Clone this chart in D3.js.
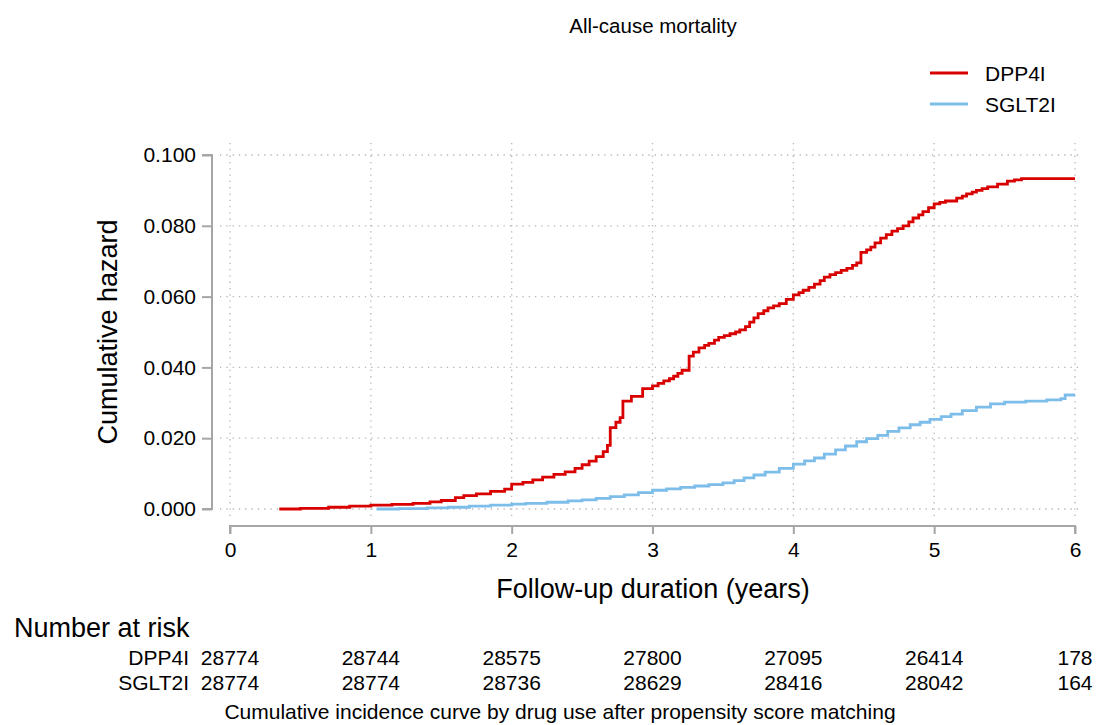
<!DOCTYPE html>
<html>
<head>
<meta charset="utf-8">
<script src="https://cdn.jsdelivr.net/npm/d3@7"></script>
<style>
  body { margin: 0; background: #fff; }
  svg text { font-family: "Liberation Sans", Arial, sans-serif; fill: #000; }
</style>
</head>
<body>
<div id="chart"></div>
<script>
// follow-up time (years) and cumulative hazard
var dppTime = [0.35, 0.5, 0.7, 0.85, 1.0, 1.15, 1.3, 1.42, 1.5, 1.6, 1.66, 1.75, 1.85, 1.95,
  2.0, 2.08, 2.15, 2.22, 2.3, 2.38, 2.45, 2.5, 2.55, 2.6, 2.65, 2.68, 2.70, 2.74, 2.77, 2.79,
  2.85, 2.93, 3.0, 3.04, 3.08, 3.12, 3.15, 3.18, 3.21, 3.26, 3.29, 3.33, 3.37, 3.4, 3.44, 3.47,
  3.51, 3.55, 3.59, 3.62, 3.66, 3.69, 3.72, 3.75, 3.79, 3.82, 3.86, 3.9, 3.95, 4.0, 4.04, 4.07,
  4.11, 4.15, 4.19, 4.22, 4.26, 4.3, 4.34, 4.38, 4.42, 4.45, 4.48, 4.52, 4.55, 4.58, 4.62, 4.66,
  4.7, 4.74, 4.78, 4.82, 4.85, 4.89, 4.92, 4.96, 5.0, 5.04, 5.08, 5.16, 5.2, 5.23, 5.27, 5.3,
  5.34, 5.38, 5.45, 5.52, 5.57, 5.62, 6.0];
var dppHaz = [0.0000, 0.0002, 0.0005, 0.0008, 0.0011, 0.0013, 0.0016, 0.0020, 0.0024, 0.0032,
  0.0038, 0.0043, 0.0050, 0.0056, 0.0070, 0.0075, 0.0082, 0.0090, 0.0098, 0.0105, 0.0115,
  0.0125, 0.0135, 0.0148, 0.0162, 0.0180, 0.0230, 0.0245, 0.0258, 0.0305, 0.0318, 0.0340,
  0.0348, 0.0355, 0.0362, 0.0368, 0.0375, 0.0383, 0.0392, 0.0432, 0.0443, 0.0455, 0.0462,
  0.0468, 0.0477, 0.0485, 0.0490, 0.0495, 0.0500, 0.0506, 0.0515, 0.0528, 0.0540, 0.0552,
  0.0560, 0.0568, 0.0574, 0.0580, 0.0592, 0.0605, 0.0611, 0.0618, 0.0626, 0.0635, 0.0645,
  0.0655, 0.0662, 0.0668, 0.0674, 0.0680, 0.0688, 0.0695, 0.0725, 0.0732, 0.0740, 0.0752,
  0.0765, 0.0775, 0.0785, 0.0792, 0.0800, 0.0811, 0.0822, 0.0831, 0.0840, 0.0851, 0.0862,
  0.0866, 0.0870, 0.0878, 0.0884, 0.0890, 0.0895, 0.0900, 0.0905, 0.0910, 0.0918, 0.0926,
  0.0930, 0.0933, 0.0933];

var sgltTime = [1.04, 1.2, 1.4, 1.55, 1.7, 1.85, 2.0, 2.1, 2.25, 2.4, 2.5, 2.6, 2.7, 2.8, 2.9,
  3.0, 3.1, 3.2, 3.3, 3.4, 3.5, 3.58, 3.65, 3.72, 3.8, 3.9, 4.0, 4.08, 4.15, 4.22, 4.3, 4.37,
  4.45, 4.52, 4.6, 4.67, 4.75, 4.83, 4.9, 4.97, 5.05, 5.12, 5.2, 5.3, 5.4, 5.5, 5.65, 5.8, 5.9,
  5.93, 6.0];
var sgltHaz = [0.0000, 0.0001, 0.0003, 0.0005, 0.0008, 0.0011, 0.0014, 0.0016, 0.0019, 0.0023,
  0.0026, 0.0030, 0.0035, 0.0040, 0.0046, 0.0053, 0.0057, 0.0061, 0.0065, 0.0069, 0.0074,
  0.0080, 0.0088, 0.0096, 0.0104, 0.0115, 0.0127, 0.0136, 0.0144, 0.0155, 0.0167, 0.0178,
  0.0190, 0.0199, 0.0208, 0.0219, 0.0229, 0.0238, 0.0245, 0.0253, 0.0261, 0.0268, 0.0278,
  0.0288, 0.0297, 0.0302, 0.0305, 0.0308, 0.0312, 0.0322, 0.0322];

var groups = ["DPP4I", "SGLT2I"];
var xTicks = [0, 1, 2, 3, 4, 5, 6];
var yTicks = [0, 0.02, 0.04, 0.06, 0.08, 0.10];
var riskDpp = [28774, 28744, 28575, 27800, 27095, 26414, 178];
var riskSglt = [28774, 28774, 28736, 28629, 28416, 28042, 164];

var W = 1097, H = 725;
var colors = { "DPP4I": "#d90000", "SGLT2I": "#7dbde9" };

var svg = d3.select("#chart").append("svg")
  .attr("width", W).attr("height", H);

var x = d3.scaleLinear().domain([0, 6]).range([230, 1075]);
var y = d3.scaleLinear().domain([0, 0.1]).range([509, 155]);

// title
svg.append("text")
  .attr("x", 653).attr("y", 33)
  .attr("text-anchor", "middle")
  .style("font-size", "20.5px")
  .text("All-cause mortality");

// grid
svg.append("g").selectAll("line").data(yTicks).enter().append("line")
  .attr("x1", 220).attr("x2", 1082)
  .attr("y1", d => y(d)).attr("y2", d => y(d))
  .attr("stroke", "#b5b5b5").attr("stroke-width", 1.3)
  .attr("stroke-dasharray", "1.3,5");
svg.append("g").selectAll("line").data(xTicks).enter().append("line")
  .attr("x1", d => x(d)).attr("x2", d => x(d))
  .attr("y1", 143).attr("y2", 520)
  .attr("stroke", "#b5b5b5").attr("stroke-width", 1.3)
  .attr("stroke-dasharray", "1.3,5");

// y axis
var yAxis = d3.axisLeft(y).tickValues(yTicks).tickFormat(d3.format(".3f")).tickSize(10).tickPadding(6);
var gy = svg.append("g").attr("transform", "translate(212,0)").call(yAxis);
gy.select(".domain").attr("stroke", "#a6a6a6").attr("stroke-width", 2).attr("d", "M-10," + y(0.1) + "H0V" + y(0) + "H-10");
gy.selectAll(".tick line").attr("stroke", "#a6a6a6").attr("stroke-width", 2);
gy.selectAll(".tick text").style("font-size", "21px").attr("fill", "#000");

// x axis
var xAxis = d3.axisBottom(x).tickValues(xTicks).tickFormat(d3.format("d")).tickSize(8).tickPadding(8);
var gx = svg.append("g").attr("transform", "translate(0,526)").call(xAxis);
gx.select(".domain").attr("stroke", "#a6a6a6").attr("stroke-width", 2).attr("d", "M" + x(0) + ",8V0H" + x(6) + "V8");
gx.selectAll(".tick line").attr("stroke", "#a6a6a6").attr("stroke-width", 2);
gx.selectAll(".tick text").style("font-size", "21px").attr("fill", "#000");

// axis titles
svg.append("text")
  .attr("transform", "translate(117,332) rotate(-90)")
  .attr("text-anchor", "middle")
  .style("font-size", "27px")
  .text("Cumulative hazard");
svg.append("text")
  .attr("x", 653).attr("y", 598)
  .attr("text-anchor", "middle")
  .style("font-size", "27px")
  .text("Follow-up duration (years)");

// curves
var line = d3.line()
  .x(d => x(d[0])).y(d => y(d[1]))
  .curve(d3.curveStepAfter);
var series = [
  { name: "SGLT2I", pts: d3.zip(sgltTime, sgltHaz) },
  { name: "DPP4I", pts: d3.zip(dppTime, dppHaz) }
];
svg.append("g").selectAll("path").data(series).enter().append("path")
  .attr("d", d => line(d.pts))
  .attr("fill", "none")
  .attr("stroke", d => colors[d.name])
  .attr("stroke-width", 2.8);

// legend
var leg = svg.append("g").selectAll("g").data(groups).enter().append("g")
  .attr("transform", (d, i) => "translate(0," + (73 + i * 31) + ")");
leg.append("line")
  .attr("x1", 930).attr("x2", 968)
  .attr("stroke", d => colors[d]).attr("stroke-width", 2.8);
leg.append("text")
  .attr("x", 985).attr("y", 8)
  .style("font-size", "21px")
  .text(d => d);

// number at risk table
svg.append("text")
  .attr("x", 14).attr("y", 637)
  .style("font-size", "27px")
  .text("Number at risk");
var rows = [{ name: "DPP4I", vals: riskDpp }, { name: "SGLT2I", vals: riskSglt }];
var row = svg.append("g").selectAll("g").data(rows).enter().append("g")
  .attr("transform", (d, i) => "translate(0," + (665 + i * 25) + ")");
row.append("text")
  .attr("x", 189).attr("text-anchor", "end")
  .style("font-size", "21px")
  .text(d => d.name);
row.selectAll("text.val").data(d => d.vals).enter().append("text")
  .attr("class", "val")
  .attr("x", (d, i) => x(xTicks[i]))
  .attr("text-anchor", "middle")
  .style("font-size", "21px")
  .text(d => d);

// caption
svg.append("text")
  .attr("x", 560).attr("y", 719)
  .attr("text-anchor", "middle")
  .style("font-size", "21px")
  .text("Cumulative incidence curve by drug use after propensity score matching");
</script>
</body>
</html>
